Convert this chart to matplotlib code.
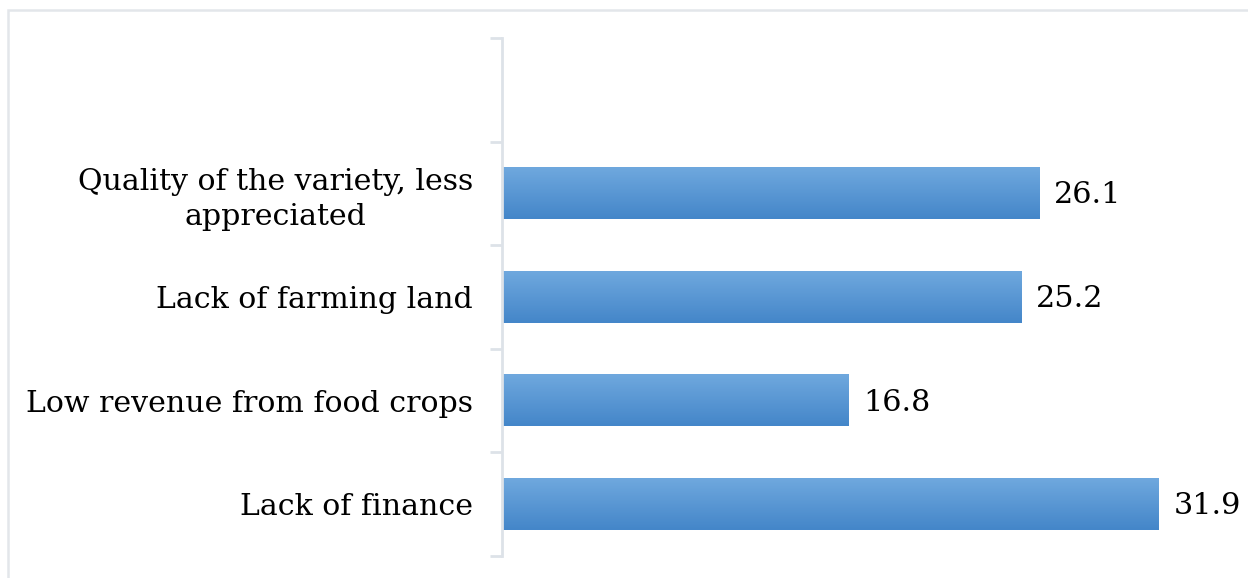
import matplotlib
matplotlib.use("Agg")
import matplotlib.pyplot as plt
import numpy as np
from matplotlib.colors import LinearSegmentedColormap
from matplotlib.patches import Rectangle

categories = ["Lack of finance", "Low revenue from food crops",
              "Lack of farming land", "Quality of the variety, less\nappreciated", ""]
values = [31.9, 16.8, 25.2, 26.1, None]
value_labels = ["31.9", "16.8", "25.2", "26.1", ""]

W, H = 1248, 578
fig = plt.figure(figsize=(W / 100, H / 100), dpi=100)
fig.patch.set_facecolor("white")

# figure border (left/top visible)
fig.add_artist(Rectangle((7.5 / W, -0.05), 1.2, (H - 10) / H + 0.05, transform=fig.transFigure,
                         fill=False, edgecolor="#e3e6ea", linewidth=1.8))

left, right = 502 / W, 1231 / W
bottom, top = 1 - 556 / H, 1 - 38 / H
ax = fig.add_axes([left, bottom, right - left, top - bottom])

n = len(categories)
xmax = (1231 - 502) / ((1159 - 502) / 31.9)

cmap = LinearSegmentedColormap.from_list("g", ["#4486c9", "#6fa8de"])
grad = np.linspace(0, 1, 64).reshape(-1, 1)
bh = 0.5
for i, v in enumerate(values):
    if v is None:
        continue
    ax.imshow(grad, extent=[0, v, i - bh / 2, i + bh / 2], origin="lower",
              cmap=cmap, aspect="auto", interpolation="bilinear", zorder=2)
    ax.text(v + 0.72, i - 0.02, value_labels[i], va="center", ha="left",
            fontsize=21.8, family="DejaVu Serif", color="black")

ax.set_xlim(0, xmax)
ax.set_ylim(-0.5, n - 0.5)

for s in ["top", "right", "bottom"]:
    ax.spines[s].set_visible(False)
ax.spines["left"].set_color("#dde2e8")
ax.spines["left"].set_linewidth(2)
ax.set_xticks([])
ax.set_yticks(np.arange(-0.5, n, 1.0))
ax.set_yticklabels([])
ax.tick_params(axis="y", length=9, width=2, color="#dde2e8")
ax.set_yticks(np.arange(n), minor=True)
ax.set_yticklabels(categories, minor=True, fontsize=21.6, family="DejaVu Serif",
                   multialignment="center", linespacing=1.32)
ax.tick_params(axis="y", which="minor", length=0, pad=21)
ax.set_facecolor("none")

fig.savefig("out.png", dpi=100)
